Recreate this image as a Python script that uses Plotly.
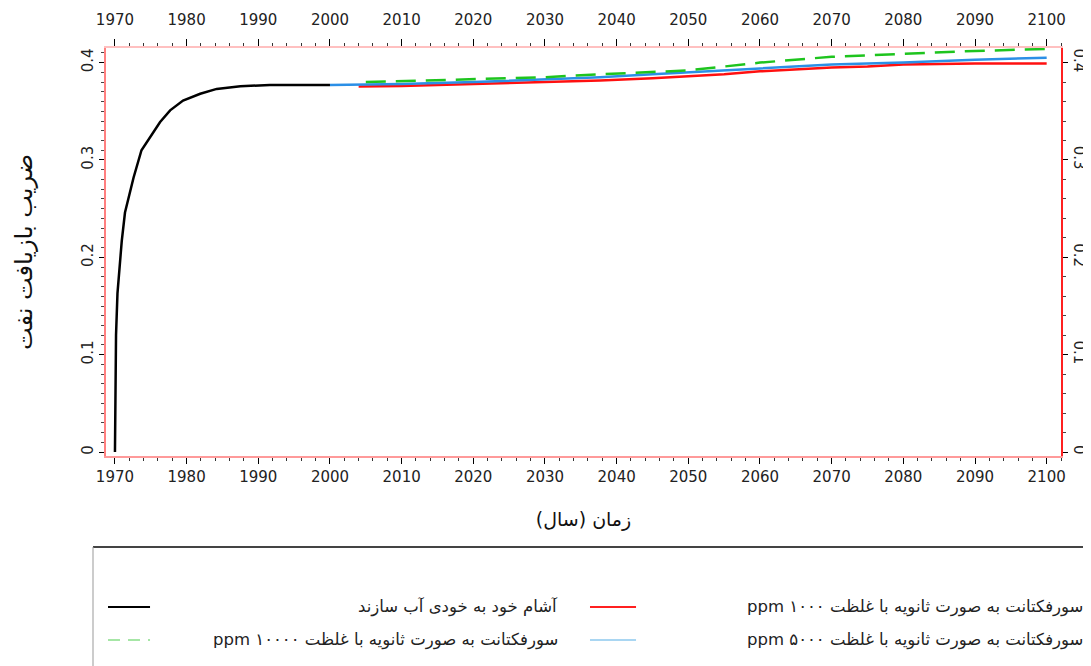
import plotly.graph_objects as go

# recovery factor curves
black_years = [1970.0, 1970.05, 1970.15, 1970.35, 1970.6, 1970.95, 1971.4, 1971.9, 1972.6,
               1973.7, 1974.9, 1976.3, 1977.7, 1979.5, 1981.9, 1984.2, 1987.5, 1991.6, 2000.0]
black_rf = [0.0, 0.07, 0.12, 0.163, 0.19, 0.217, 0.246, 0.262, 0.282,
            0.31, 0.323, 0.339, 0.351, 0.361, 0.368, 0.373, 0.3757, 0.377, 0.377]

red_years = [2004, 2010, 2020, 2030, 2037.7, 2045, 2050, 2055, 2060, 2065, 2070, 2075, 2080, 2090, 2100]
red_rf = [0.3755, 0.376, 0.378, 0.380, 0.3815, 0.384, 0.386, 0.388, 0.391, 0.393, 0.395, 0.396, 0.398, 0.399, 0.399]

blue_years = [2000, 2010, 2020, 2030, 2037.7, 2045, 2051.7, 2060, 2070, 2080, 2090, 2100]
blue_rf = [0.377, 0.378, 0.380, 0.383, 0.385, 0.388, 0.391, 0.394, 0.398, 0.400, 0.403, 0.405]

green_years = [2005, 2010, 2020, 2030, 2037.7, 2045, 2050, 2055, 2060, 2070, 2080, 2090, 2100]
green_rf = [0.380, 0.381, 0.383, 0.385, 0.388, 0.390, 0.392, 0.396, 0.400, 0.406, 0.409, 0.412, 0.414]

names = ["آشام خود به خودی آب سازند",
         "سورفکتانت به صورت ثانویه با غلظت ۱۰۰۰ ppm",
         "سورفکتانت به صورت ثانویه با غلظت ۱۰۰۰۰ ppm",
         "سورفکتانت به صورت ثانویه با غلظت ۵۰۰۰ ppm"]

FONT = "DejaVu Sans, Arial, sans-serif"
rtl = lambda s: "\u202B" + s + "\u202C"

fig = go.Figure()
fig.add_trace(go.Scatter(x=black_years, y=black_rf, mode="lines", line=dict(color="black", width=2.5)))
fig.add_trace(go.Scatter(x=red_years, y=red_rf, mode="lines", line=dict(color="#ff1010", width=2.5)))
fig.add_trace(go.Scatter(x=blue_years, y=blue_rf, mode="lines", line=dict(color="#2b8fe6", width=2.5)))
fig.add_trace(go.Scatter(x=green_years, y=green_rf, mode="lines",
                         line=dict(color="#1ec41e", width=2.5, dash="20px,10px")))
# invisible trace so top / right axes get drawn
fig.add_trace(go.Scatter(x=black_years, y=black_rf, xaxis="x2", yaxis="y2", mode="lines",
                         opacity=0, hoverinfo="skip"))

xr = [1968.75, 2102.0]
yr = [-0.004, 0.415]
tickfont = dict(family=FONT, size=15, color="#222")

# page body adds an 8px margin, so the figure is 8px smaller than the window
fig.update_layout(
    width=1083, height=658,
    margin=dict(l=98, r=30, t=40, b=210),
    plot_bgcolor="white", paper_bgcolor="white",
    showlegend=False,
    font=dict(family=FONT),
    xaxis=dict(range=xr, tick0=1970, dtick=10, ticks="outside", ticklen=6, tickcolor="black",
               minor=dict(dtick=2, tick0=1970, ticks="outside", ticklen=3, tickcolor="#333"),
               showgrid=False, zeroline=False, showline=True, linecolor="#ff9a9a", linewidth=2,
               tickfont=tickfont, automargin=False,
               title=dict(text="زمان (سال)", font=dict(family=FONT, size=19, color="#111"), standoff=28)),
    xaxis2=dict(range=xr, overlaying="x", side="top", tick0=1970, dtick=10, ticks="outside",
                ticklen=7, tickcolor="black", ticklabelstandoff=8,
                minor=dict(dtick=2, tick0=1970, ticks="outside", ticklen=3, tickcolor="#333"),
                showgrid=False, zeroline=False, showline=True, linecolor="#ffc0c0", linewidth=2,
                tickfont=tickfont, automargin=False),
    yaxis=dict(range=yr, tick0=0, dtick=0.1, ticks="outside", ticklen=5, tickcolor="black",
               minor=dict(dtick=0.01, ticks="outside", ticklen=3, tickcolor="#444"),
               tickangle=-90, showgrid=False, zeroline=False, showline=True,
               linecolor="#ff8080", linewidth=2, tickfont=tickfont, automargin=False,
               title=dict(text="ضریب بازیافت نفت", font=dict(family=FONT, size=24, color="#111"), standoff=40)),
    yaxis2=dict(range=yr, overlaying="y", side="right", tick0=0, dtick=0.1, ticks="outside",
                ticklen=5, tickcolor="black",
                minor=dict(dtick=0.02, ticks="outside", ticklen=3, tickcolor="#444"),
                tickangle=90, showgrid=False, zeroline=False, showline=True,
                linecolor="#ff2020", linewidth=2, tickfont=tickfont, automargin=False),
)

# legend box drawn below the plot
fig.add_shape(type="line", xref="paper", yref="paper", x0=-0.0136, x1=1.04, y0=-0.223, y1=-0.223,
              line=dict(color="#444", width=2))
fig.add_shape(type="line", xref="paper", yref="paper", x0=-0.0136, x1=-0.0136, y0=-0.223, y1=-0.53,
              line=dict(color="#999", width=1))

legend_items = [
    (0.0021, 0.0461, -0.370, 0.4754, "black", "solid", names[0]),
    (0.5068, 0.555, -0.370, 1.0251, "#ff2020", "solid", names[1]),
    (0.0021, 0.0461, -0.451, 0.4754, "#a6e6a6", "12px,8px", names[2]),
    (0.5068, 0.555, -0.451, 1.0251, "#a9d6f2", "solid", names[3]),
]
for x0, x1, y, xt, col, dash, txt in legend_items:
    fig.add_shape(type="line", xref="paper", yref="paper", x0=x0, x1=x1, y0=y, y1=y,
                  line=dict(color=col, width=2, dash=dash))
    fig.add_annotation(x=xt, y=y, xref="paper", yref="paper", text=rtl(txt), showarrow=False,
                       xanchor="right", yanchor="middle",
                       font=dict(family=FONT, size=16.5, color="#222"))

fig.write_html("out.html")
